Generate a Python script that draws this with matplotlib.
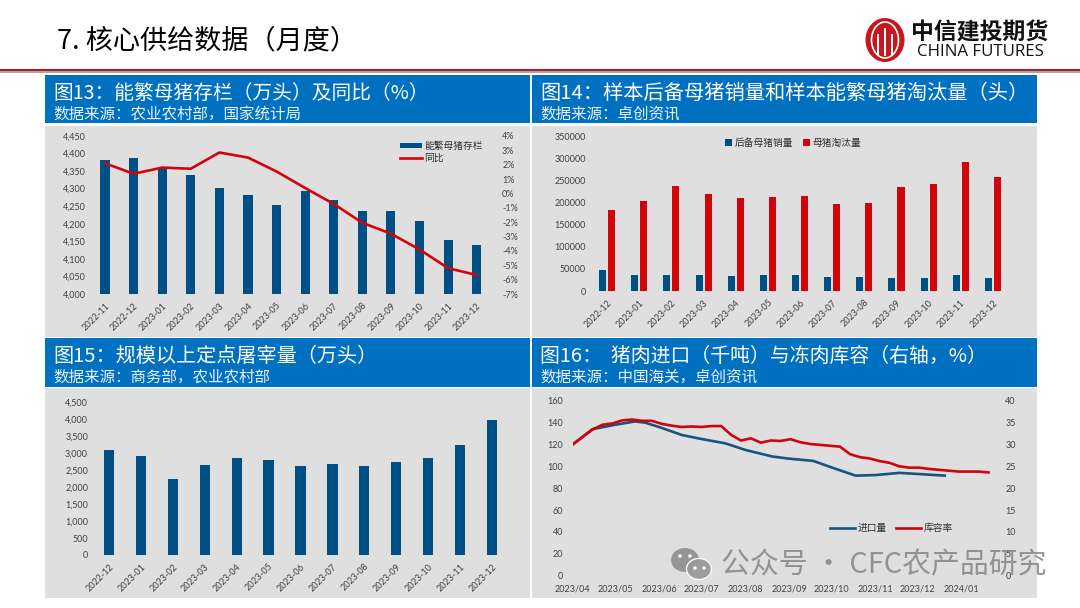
import matplotlib
matplotlib.use("Agg")
import matplotlib.pyplot as plt
import matplotlib.dates as mdates
import pandas as pd
from matplotlib.patches import Ellipse, Rectangle
from matplotlib.ticker import FuncFormatter

plt.rcParams['font.family'] = ['Noto Sans CJK SC', 'DejaVu Sans']

W, H = 1080, 608
NAVY = '#004F84'
RED = '#D2040B'
BLUE_HEAD = '#0070C0'
PANEL = '#DFDFDF'
TICK = '#404040'
LATIN = ['Lato', 'Noto Sans CJK SC']

# 图13
months13 = ['2022-11', '2022-12', '2023-01', '2023-02', '2023-03', '2023-04', '2023-05',
            '2023-06', '2023-07', '2023-08', '2023-09', '2023-10', '2023-11', '2023-12']
stock = [4383, 4386, 4363, 4339, 4303, 4281, 4254, 4293, 4267, 4237, 4237, 4207, 4155, 4139]
stock_yoy = [2.1, 1.37, 1.8, 1.72, 2.85, 2.5, 1.53, 0.38, -0.73, -2.04, -2.8, -3.9, -5.2, -5.68]

# 图14
months14 = ['2022-12', '2023-01', '2023-02', '2023-03', '2023-04', '2023-05', '2023-06',
            '2023-07', '2023-08', '2023-09', '2023-10', '2023-11', '2023-12']
gilt_sales = [47500, 35500, 37000, 37000, 33000, 37000, 35500, 32000, 32000, 29500, 29500, 35500, 29500]
sow_cull = [184000, 204500, 239000, 219500, 212000, 213500, 216000, 197000, 199000, 237000, 243000, 293000, 259500]

# 图15
slaughter = [3095, 2900, 2250, 2660, 2850, 2800, 2630, 2670, 2630, 2750, 2850, 3250, 3970]

# 图16
import_dates = ['2023-04-01', '2023-04-15', '2023-05-01', '2023-05-15', '2023-05-22', '2023-06-01',
                '2023-06-17', '2023-07-01', '2023-07-18', '2023-08-01', '2023-08-20', '2023-09-01',
                '2023-09-18', '2023-10-01', '2023-10-18', '2023-11-01', '2023-11-18', '2023-12-01', '2023-12-20']
imports = [120, 134, 138, 141, 140, 136, 128.7, 125, 121, 115, 109, 107, 105, 99, 91.5, 92, 94, 93, 91.5]
stock_start = '2023-04-01'
frozen_rate = [30, 31.7, 33.4, 34.5, 34.8, 35.5, 35.7, 35.4, 35.4, 34.7, 34.3, 34.0, 34.1, 34.0, 34.2, 34.2,
               32.2, 30.9, 31.4, 30.4, 30.9, 30.8, 31.2, 30.5, 30.1, 29.9, 29.7, 29.5, 27.8, 27.1, 26.8,
               26.2, 25.8, 25.0, 24.7, 24.7, 24.4, 24.2, 24.0, 23.8, 23.8, 23.8, 23.6]


def px_axes(fig, x0, y_top, x1, y_bottom, **kw):
    # pixel box from the top-left corner of the slide
    ax = fig.add_axes([x0 / W, 1 - y_bottom / H, (x1 - x0) / W, (y_bottom - y_top) / H], **kw)
    ax.patch.set_visible(False)
    for s in ax.spines.values():
        s.set_visible(False)
    ax.tick_params(length=0, labelsize=6.5, labelcolor=TICK)
    return ax


def style_ticks(ax):
    for lab in ax.get_xticklabels() + ax.get_yticklabels():
        lab.set_family(LATIN)


def month_labels(ax, labels):
    ax.set_xticks(range(len(labels)))
    ax.set_xticklabels(labels, rotation=45, ha='right', rotation_mode='anchor')
    ax.tick_params(axis='x', pad=5)
    ax.set_xlim(-0.5, len(labels) - 0.5)


def place_legend(ax, x, y, **kw):
    leg = ax.legend(loc='upper left', bbox_to_anchor=(x / W, 1 - y / H), bbox_transform=ax.figure.transFigure,
                    frameon=False, borderpad=0, borderaxespad=0, prop={'size': 7}, **kw)
    for t in leg.get_texts():
        t.set_color('#303030')
    return leg


comma = FuncFormatter(lambda v, _: f'{int(v):,}')

fig = plt.figure(figsize=(10.8, 6.08), dpi=100, facecolor='white')

# slide layer
bg = fig.add_axes([0, 0, 1, 1], zorder=0)
bg.set_xlim(0, W)
bg.set_ylim(H, 0)
bg.axis('off')

bg.add_patch(Rectangle((0, 71), W, 1.5, color='#A8A8A8', lw=0))
bg.add_patch(Rectangle((0, 68.5), W, 2.8, color='#C0131B', lw=0))
bg.text(57, 41, '7. 核心供给数据（月度）', fontsize=19.5, color='black', va='center')

# logo
bg.add_patch(Ellipse((885, 40), 39, 44, color='#C8161D', lw=0))
bg.add_patch(Ellipse((885, 40), 27, 36, fc='none', ec='white', lw=1.2))
bg.add_patch(Rectangle((877, 34), 2, 22, color='white', lw=0))
bg.add_patch(Rectangle((884, 28), 2, 28, color='white', lw=0))
bg.add_patch(Rectangle((891, 34), 2, 22, color='white', lw=0))
bg.text(980, 33.5, '中信建投期货', fontsize=16.5, fontweight='bold', color='#111111', ha='center', va='center')
bg.text(980, 52, 'CHINA FUTURES', fontsize=12.2, color='#111111', ha='center', va='center', family=['Open Sans'])

panels = [
    (45, 530, 75, 123, 126, 337, '图13：能繁母猪存栏（万头）及同比（%）', '数据来源：农业农村部，国家统计局', 14.2),
    (532, 1037, 75, 123, 126, 337, '图14：样本后备母猪销量和样本能繁母猪淘汰量（头）', '数据来源：卓创资讯', 14.6),
    (45, 530, 338, 387, 388, 598, '图15：规模以上定点屠宰量（万头）', '数据来源：商务部，农业农村部', 14.5),
    (532, 1037, 338, 387, 388, 598, '图16：  猪肉进口（千吨）与冻肉库容（右轴，%）', '数据来源：中国海关，卓创资讯', 14.3),
]
for x0, x1, h0, h1, p0, p1, title, source, size in panels:
    bg.add_patch(Rectangle((x0, h0), x1 - x0, h1 - h0, color=BLUE_HEAD, lw=0))
    bg.add_patch(Rectangle((x0, p0), x1 - x0, p1 - p0, color=PANEL, lw=0))
    bg.text(x0 + 8, h0 + 18, title, fontsize=size, color='white', va='center')
    bg.text(x0 + 8, h0 + 39.5, source, fontsize=11.2, color='#EAF2FA', va='center')

# 图13
ax1 = px_axes(fig, 90.7, 136, 491, 294, zorder=2)
ax1.bar(range(len(months13)), stock, width=0.32, color=NAVY, label='能繁母猪存栏')
month_labels(ax1, months13)
ax1.set_ylim(4000, 4450)
ax1.set_yticks(range(4000, 4451, 50))
ax1.yaxis.set_major_formatter(comma)
ax1b = ax1.twinx()
ax1b.patch.set_visible(False)
for s in ax1b.spines.values():
    s.set_visible(False)
ax1b.tick_params(length=0, labelsize=6.5, labelcolor=TICK, pad=8)
line1, = ax1b.plot(range(len(months13)), stock_yoy, color=RED, lw=1.9, label='同比')
ax1b.set_ylim(-7, 4)
ax1b.set_yticks(range(-7, 5))
ax1b.yaxis.set_major_formatter(FuncFormatter(lambda v, _: f'{int(v)}%'))
style_ticks(ax1)
style_ticks(ax1b)
bars1, labs1 = ax1.get_legend_handles_labels()
ax1b.set_zorder(ax1.get_zorder() + 1)
place_legend(ax1b, 400, 141, handles=bars1 + [line1], labels=labs1 + ['同比'], handlelength=2.3,
             handleheight=0.5, handletextpad=0.2, labelspacing=0.2)

# 图14
ax2 = px_axes(fig, 591, 136.7, 1009, 291, zorder=2)
idx = range(len(months14))
ax2.bar([i - 0.14 for i in idx], gilt_sales, width=0.22, color=NAVY, label='后备母猪销量')
ax2.bar([i + 0.14 for i in idx], sow_cull, width=0.22, color=RED, label='母猪淘汰量')
month_labels(ax2, months14)
ax2.set_ylim(0, 350000)
ax2.set_yticks(range(0, 350001, 50000))
style_ticks(ax2)
place_legend(ax2, 725, 138, ncols=2, handlelength=0.7, handleheight=0.7, handletextpad=0.3, columnspacing=1.0)

# 图15
ax3 = px_axes(fig, 93, 402, 508, 555, zorder=2)
ax3.bar(range(len(months14)), slaughter, width=0.32, color=NAVY)
month_labels(ax3, months14)
ax3.set_ylim(0, 4500)
ax3.set_yticks(range(0, 4501, 500))
ax3.yaxis.set_major_formatter(comma)
style_ticks(ax3)

# 图16
ax4 = px_axes(fig, 572.7, 400.7, 997, 575.7, zorder=2)
week_dates = pd.date_range(stock_start, periods=len(frozen_rate), freq='7D')
line_a, = ax4.plot(pd.to_datetime(import_dates), imports, color='#14567F', lw=1.9, label='进口量')
ax4.set_ylim(0, 160)
ax4.set_yticks(range(0, 161, 20))
ax4.set_xlim(pd.Timestamp('2023-04-01'), pd.Timestamp('2024-01-26'))
ax4.xaxis.set_major_locator(mdates.MonthLocator())
ax4.xaxis.set_major_formatter(mdates.DateFormatter('%Y/%m'))
ax4.tick_params(axis='x', pad=6)
ax4.tick_params(axis='y', pad=7)
ax4b = ax4.twinx()
ax4b.patch.set_visible(False)
for s in ax4b.spines.values():
    s.set_visible(False)
ax4b.tick_params(length=0, labelsize=6.5, labelcolor=TICK, pad=6)
line_b, = ax4b.plot(week_dates, frozen_rate, color=RED, lw=1.9, label='库容率')
ax4b.set_ylim(0, 40)
ax4b.set_yticks(range(0, 41, 5))
style_ticks(ax4)
style_ticks(ax4b)
place_legend(ax4b, 830, 523, handles=[line_a, line_b], labels=['进口量', '库容率'], ncols=2,
             handlelength=2.6, handletextpad=0.2, columnspacing=1.0)

# watermark
top = fig.add_axes([0, 0, 1, 1], zorder=5)
top.set_xlim(0, W)
top.set_ylim(H, 0)
top.axis('off')
top.add_patch(Ellipse((685, 560), 28, 24, color='#8A8A8A', alpha=0.85, lw=0))
top.add_patch(Ellipse((699, 569), 25, 21, color='#9A9A9A', ec='white', alpha=0.95, lw=1))
for ex, ey in [(680, 556), (690, 556), (695, 568), (704, 568)]:
    top.add_patch(Ellipse((ex, ey), 3.5, 3.5, color='white', lw=0))
top.text(721, 565, '公众号 · CFC农产品研究', fontsize=20.8, color='#7F7F7F', alpha=0.8, va='center')

fig.savefig('out.png', dpi=100)
